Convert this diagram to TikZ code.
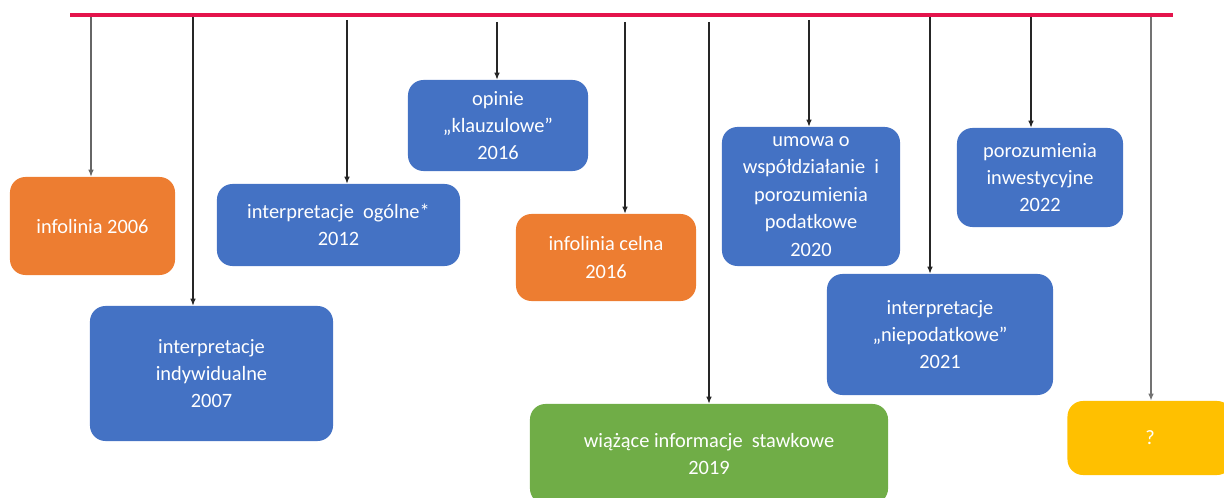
\documentclass[tikz,border=0pt]{standalone}
\usepackage{fontspec}
\setmainfont{Carlito}
\definecolor{tl_red}{RGB}{228, 20, 76}
\definecolor{box_blue}{RGB}{68, 114, 196}
\definecolor{box_orange}{RGB}{237, 125, 49}
\definecolor{box_green}{RGB}{112, 173, 71}
\definecolor{box_yellow}{RGB}{255, 192, 0}
\usetikzlibrary{arrows.meta, positioning, calc}

\begin{document}
\begin{tikzpicture}[x=0.025cm, y=-0.025cm,
      font=\fontsize{14.5}{19.5}\selectfont,
      blk/.style={rounded corners=11pt, align=center, text=white,
                  inner sep=0pt},
      arr/.style={-{Latex[length=5pt, width=4pt]}, line width=0.8pt,
                  black!85},
      timeline/.style={line width=2.8pt, tl_red}]
      \useasboundingbox (0,0) rectangle (1224,498);
      \clip (0,0) rectangle (1224,498);
      % Os czasu
      \coordinate (tl start) at (70,15);
      \coordinate (tl end) at (1173,15);
      \draw[timeline] (tl start) -- (tl end);
      % Punkty na osi
      \coordinate (t1) at (91,17);
      \coordinate (t2) at (193,17);
      \coordinate (t3) at (347,20);
      \coordinate (t4) at (497,22);
      \coordinate (t5) at (625,22);
      \coordinate (t6) at (709,22);
      \coordinate (t7) at (809,20);
      \coordinate (t8) at (930,17);
      \coordinate (t9) at (1031,17);
      \coordinate (t10) at (1151,17);
      % Infolinia
      \node[blk, fill=box_orange, minimum width=4.125cm,
        minimum height=2.45cm] (info06)
        at (92.5,226) {infolinia 2006};
      % Interpretacje indywidualne
      \node[blk, fill=box_blue, minimum width=6.075cm,
        minimum height=3.375cm] (indyw07)
        at (211.5,373.5) {interpretacje\\indywidualne\\2007};
      % Interpretacje ogolne
      \node[blk, fill=box_blue, minimum width=6.075cm,
        minimum height=2.05cm] (ogol12)
        at (338.5,225) {interpretacje~~ogólne*\\2012};
      % Opinie klauzulowe
      \node[blk, fill=box_blue, minimum width=4.5cm,
        minimum height=2.275cm] (opin16)
        at (498,125.5) {opinie\\„klauzulowe”\\2016};
      % Infolinia celna
      \node[blk, fill=box_orange, minimum width=4.5cm,
        minimum height=2.175cm] (celna16)
        at (606,257.5) {infolinia celna\\2016};
      % WIS
      \node[blk, fill=box_green, minimum width=8.95cm,
        minimum height=2.5cm] (wis19)
        at (709,454) {wiążące informacje~~stawkowe\\2019};
      % Umowa o wspoldzialanie
      \node[blk, fill=box_blue, minimum width=4.45cm,
        minimum height=3.475cm] (umowa20)
        at (811,196.5)
        {umowa o\\współdziałanie~~i\\porozumienia\\podatkowe\\2020};
      % Interpretacje niepodatkowe
      \node[blk, fill=box_blue, minimum width=5.65cm,
        minimum height=3.025cm] (niepod21)
        at (940,334.5) {interpretacje\\„niepodatkowe”\\2021};
      % Porozumienia inwestycyjne
      \node[blk, fill=box_blue, minimum width=4.15cm,
        minimum height=2.475cm] (inwest22)
        at (1040,177.5) {porozumienia\\inwestycyjne\\2022};
      % Kolejne?
      \node[blk, fill=box_yellow, minimum width=4.125cm,
        minimum height=1.85cm] (next)
        at (1150,438) {?};
      % Strzalki
      \draw[arr, black!60] (t1) -- (t1 |- info06.north);
      \draw[arr] (t2) -- (t2 |- indyw07.north);
      \draw[arr] (t3) -- (t3 |- ogol12.north);
      \draw[arr] (t4) -- (t4 |- opin16.north);
      \draw[arr] (t5) -- (t5 |- celna16.north);
      \draw[arr] (t6) -- (t6 |- wis19.north);
      \draw[arr] (t7) -- (t7 |- umowa20.north);
      \draw[arr] (t8) -- (t8 |- niepod21.north);
      \draw[arr] (t9) -- (t9 |- inwest22.north);
      \draw[arr, black!55, line width=1.3pt] (t10) -- (t10 |- next.north);
    \end{tikzpicture}
\end{document}
